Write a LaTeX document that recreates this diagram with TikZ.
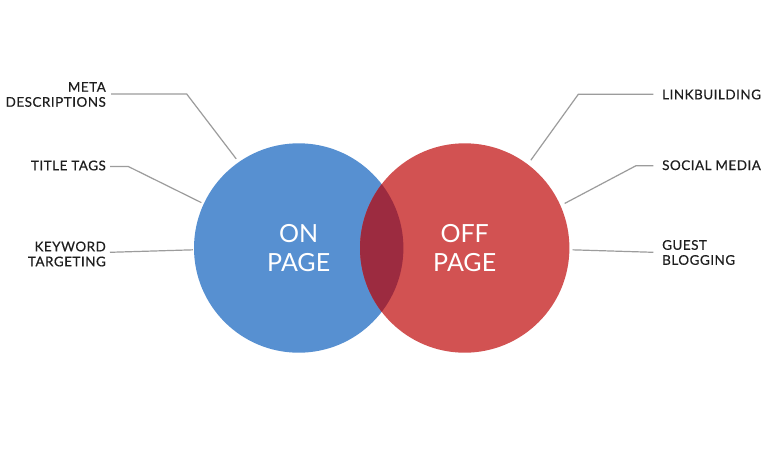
\documentclass[tikz,border=0pt]{standalone}
\usepackage{fontspec}
\setmainfont{Lato}
\newfontfamily\lblfont[LetterSpace=4,FakeBold=0.4]{Lato}
\definecolor{onblue}{HTML}{5790D1}
\definecolor{offred}{HTML}{D25252}
\definecolor{overlap}{HTML}{9C2B40}
\definecolor{conngray}{HTML}{9C9C9C}
\definecolor{labeltext}{HTML}{1E1E1E}
\begin{document}
\begin{tikzpicture}[x=1pt,y=-1pt,
  venn/.style={circle,inner sep=0pt,minimum size=209.4pt,text=white,align=center,
    font=\fontsize{25}{29}\selectfont},
  lbl/.style={inner sep=0pt,text=labeltext,font=\lblfont\fontsize{13.4}{15}\selectfont},
  lbll/.style={lbl,anchor=east,align=right},
  lblr/.style={lbl,anchor=west,align=left},
  conn/.style={draw=conngray,line width=1.2pt}]
\useasboundingbox[fill=white] (0,0) rectangle (768,450);
% circles
\path[fill=onblue] (298.7,248) circle[radius=104.7];
\path[fill=offred] (464.7,248) circle[radius=104.7];
\begin{scope}
  \clip (298.7,248) circle[radius=104.7];
  \path[fill=overlap] (464.7,248) circle[radius=104.7];
\end{scope}
\node[venn] (blue) at (298.7,248) {ON\\PAGE};
\node[venn] (red) at (464.7,248) {OFF\\PAGE};
% left labels
\node[lbll] (meta) at (106,94.5) {META\\DESCRIPTIONS};
\node[lbll] (title) at (106,165.5) {TITLE TAGS};
\node[lbll] (key) at (106,254) {KEYWORD\\TARGETING};
% right labels
\node[lblr] (link) at (662,94.5) {LINKBUILDING};
\node[lblr] (social) at (662,165.2) {SOCIAL MEDIA};
\node[lblr] (guest) at (662,252.5) {GUEST\\BLOGGING};
% connectors
\coordinate (mstart) at (111,94);
\coordinate (mbend) at (186.7,94);
\coordinate (tstart) at (110,166.5);
\coordinate (tbend) at (128.3,166.5);
\coordinate (kstart) at (110,252.3);
\coordinate (lstart) at (653.3,94.3);
\coordinate (lbend) at (578.3,94.3);
\coordinate (sstart) at (653.3,165.7);
\coordinate (sbend) at (636,165.7);
\coordinate (gstart) at (653.3,252.3);
\draw[conn] (mstart) -- (mbend) -- ([shift={(125.9:4pt)}]blue.125.9);
\draw[conn] (tstart) -- (tbend) -- ([shift={(155:2.5pt)}]blue.155);
\draw[conn] (kstart) -- ([xshift=-1pt]blue.181.6);
\draw[conn] (lstart) -- (lbend) -- ([shift={(53.4:5pt)}]red.53.4);
\draw[conn] (sstart) -- (sbend) -- ([shift={(24.5:4.5pt)}]red.24.5);
\draw[conn] (gstart) -- ([xshift=3pt]red.-1.6);
\end{tikzpicture}
\end{document}
